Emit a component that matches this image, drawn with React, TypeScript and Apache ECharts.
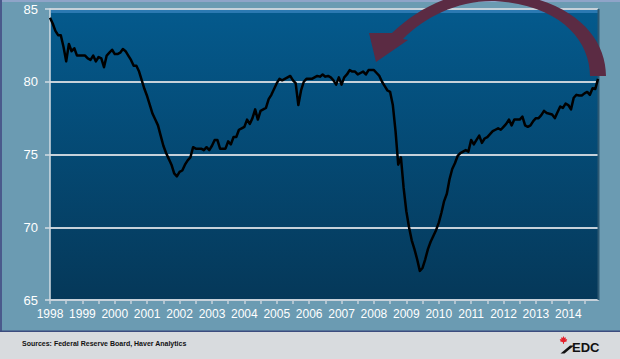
import React, { useEffect, useRef } from "react";
import * as echarts from "echarts";

const years = [1998, 1999, 2000, 2001, 2002, 2003, 2004, 2005, 2006, 2007, 2008, 2009, 2010, 2011, 2012, 2013, 2014];
const monthCodes = ["01", "02", "03", "04", "05", "06", "07", "08", "09", "10", "11", "12"];
const yTicks = { min: 65, max: 85, step: 5 };

const cu1998 = [84.4, 84.0, 83.5, 83.2, 83.2, 82.4, 81.4, 82.6, 82.1, 82.3, 81.8, 81.8];
const cu1999 = [81.8, 81.8, 81.6, 81.5, 81.8, 81.4, 81.7, 81.6, 81.0, 81.8, 82.0, 82.2];
const cu2000 = [81.9, 81.9, 82.0, 82.25, 82.1, 81.8, 81.5, 81.1, 81.1, 80.7, 80.1, 79.5];
const cu2001 = [79.0, 78.4, 77.8, 77.4, 77.0, 76.3, 75.6, 75.1, 74.7, 74.3, 73.7, 73.5];
const cu2002 = [73.8, 73.9, 74.3, 74.6, 74.8, 75.5, 75.4, 75.4, 75.4, 75.3, 75.5, 75.3];
const cu2003 = [75.6, 76.0, 76.0, 75.4, 75.4, 75.4, 75.9, 75.7, 76.2, 76.2, 76.7, 76.8];
const cu2004 = [76.9, 77.4, 77.1, 77.5, 78.1, 77.4, 78.0, 78.1, 78.2, 78.8, 79.1, 79.5];
const cu2005 = [79.9, 80.2, 80.1, 80.2, 80.3, 80.4, 80.1, 79.9, 78.4, 79.4, 80.0, 80.2];
const cu2006 = [80.2, 80.2, 80.3, 80.4, 80.35, 80.5, 80.35, 80.4, 80.3, 80.1, 79.8, 80.3];
const cu2007 = [79.8, 80.3, 80.5, 80.8, 80.7, 80.7, 80.5, 80.6, 80.7, 80.5, 80.8, 80.8];
const cu2008 = [80.8, 80.6, 80.4, 80.0, 79.7, 79.4, 79.3, 78.4, 76.6, 74.3, 74.8, 72.7];
const cu2009 = [71.1, 70.0, 69.1, 68.5, 67.8, 67.0, 67.2, 67.8, 68.5, 69.0, 69.4, 69.8];
const cu2010 = [70.3, 71.0, 71.8, 72.3, 73.3, 74.0, 74.4, 74.9, 75.1, 75.2, 75.3, 75.2];
const cu2011 = [76.0, 75.7, 76.0, 76.3, 75.8, 76.1, 76.2, 76.4, 76.6, 76.7, 76.8, 76.7];
const cu2012 = [76.9, 77.1, 77.4, 77.0, 77.4, 77.4, 77.4, 77.6, 77.0, 76.9, 77.0, 77.3];
const cu2013 = [77.5, 77.5, 77.7, 78.0, 77.85, 77.8, 77.75, 77.5, 77.9, 78.3, 78.2, 78.5];
const cu2014 = [78.4, 78.1, 78.9, 79.1, 79.05, 79.05, 79.2, 79.3, 79.1, 79.55, 79.5, 80.2];

const utilization = [
  ...cu1998, ...cu1999, ...cu2000, ...cu2001, ...cu2002, ...cu2003, ...cu2004, ...cu2005,
  ...cu2006, ...cu2007, ...cu2008, ...cu2009, ...cu2010, ...cu2011, ...cu2012, ...cu2013, ...cu2014,
];
const months = years.flatMap((y) => monthCodes.map((m) => `${y}-${m}`));

const sourceText = "Sources: Federal Reserve Board, Haver Analytics";
const logoText = "EDC";

const ARROW_D =
  "M590,76 L606,76 C606,35 570,-3 495,-8 C455,-11 418,8 392,33 L369,33 L376,62 L408,40 L403,39 C425,17 458,0 495,1 C560,5 590,40 590,76 Z";

let registered = false;
function ensureShapes() {
  if (registered) return;
  echarts.graphic.registerShape("curvedArrow", echarts.graphic.extendPath(ARROW_D, {}) as any);
  registered = true;
}

const FONT = '"Liberation Sans", Arial, Helvetica, sans-serif';

export default function App() {
  const ref = useRef<HTMLDivElement>(null);

  useEffect(() => {
    if (!ref.current) return;
    ensureShapes();
    const chart = echarts.init(ref.current, undefined, { renderer: "svg" });
    const lightLine = "#c6d1da";
    const option: any = {
      animation: false,
      backgroundColor: "#d8dbde",
      grid: {
        left: 50,
        right: 22,
        top: 9,
        bottom: 59,
        show: true,
        borderWidth: 0,
        backgroundColor: new echarts.graphic.LinearGradient(0, 0, 0, 1, [
          { offset: 0, color: "#045a8d" },
          { offset: 1, color: "#053859" },
        ]),
      },
      xAxis: {
        type: "category",
        data: months,
        boundaryGap: false,
        axisLine: { show: true, lineStyle: { color: lightLine, width: 2 } },
        axisTick: { show: true, interval: 5, length: 4, lineStyle: { color: lightLine, width: 1.5 } },
        axisLabel: {
          interval: 11,
          formatter: (v: string) => v.slice(0, 4),
          color: "#ffffff",
          fontSize: 12,
          fontFamily: FONT,
          margin: 8,
        },
        splitLine: { show: false },
      },
      yAxis: {
        type: "value",
        min: yTicks.min,
        max: yTicks.max,
        interval: yTicks.step,
        axisLine: { show: true, lineStyle: { color: "#d3dce3", width: 1.5 } },
        axisTick: { show: true, length: 5, lineStyle: { color: "#d3dce3", width: 1.5 } },
        axisLabel: { color: "#ffffff", fontSize: 13, fontFamily: FONT, margin: 12 },
        splitLine: { show: true, lineStyle: { color: lightLine, width: 2 } },
      },
      series: [
        {
          type: "line",
          data: utilization,
          symbol: "none",
          smooth: false,
          z: 5,
          lineStyle: { color: "#000000", width: 2.5, join: "round" },
        },
      ],
      graphic: [
        // outer panel
        { type: "rect", z: -10, silent: true, shape: { x: 0, y: 0, width: 620, height: 332 }, style: { fill: "#6b9bb2" } },
        { type: "rect", z: -9, silent: true, shape: { x: 0, y: 0, width: 620, height: 2 }, style: { fill: "#8fa4c8" } },
        { type: "rect", z: -9, silent: true, shape: { x: 0, y: 0, width: 2, height: 332 }, style: { fill: "#4a5a8c" } },
        { type: "rect", z: -9, silent: true, shape: { x: 0, y: 330.5, width: 620, height: 1.5 }, style: { fill: "#3c4c7e" } },
        // bevel band at top of plot
        { type: "rect", z: 1, silent: true, shape: { x: 51, y: 10, width: 547, height: 3 }, style: { fill: "#2b79b2" } },
        // dark right edge of plot
        { type: "rect", z: 1, silent: true, shape: { x: 597.5, y: 9, width: 2, height: 291 }, style: { fill: "#2d5872" } },
        // arrow
        { type: "curvedArrow", z: 100, silent: true, x: 0, y: 0, style: { fill: "#5b2b43" } },
        // source text
        {
          type: "text",
          z: 100,
          x: 22,
          y: 343.5,
          style: {
            text: sourceText,
            fill: "#111111",
            font: `bold 7px ${FONT}`,
            fontSize: 7,
            fontWeight: "bold",
            fontFamily: FONT,
            textVerticalAlign: "middle",
            verticalAlign: "middle",
          },
        },
        // EDC logo
        {
          type: "polygon",
          z: 100,
          silent: true,
          shape: {
            points: [
              [563.5, 336], [564.5, 338], [566, 337.3], [565.5, 339.5], [567.3, 339], [566.5, 340.8], [567, 341.2],
              [564.8, 342], [564.2, 342], [563.8, 344], [563.2, 344], [562.8, 342], [562.2, 342],
              [560, 341.2], [560.5, 340.8], [559.7, 339], [561.5, 339.5], [561, 337.3], [562.5, 338],
            ],
          },
          style: { fill: "#e4202b" },
        },
        {
          type: "polygon",
          z: 100,
          silent: true,
          shape: { points: [[560.5, 353.5], [564.5, 353.5], [574, 345.5], [570, 345.5]] },
          style: { fill: "#111111" },
        },
        {
          type: "text",
          z: 100,
          x: 572,
          y: 347,
          style: {
            text: logoText,
            fill: "#111111",
            font: `bold 13px ${FONT}`,
            fontSize: 13,
            fontWeight: "bold",
            fontFamily: FONT,
            textVerticalAlign: "middle",
            verticalAlign: "middle",
          },
        },
      ],
    };
    chart.setOption(option);
    return () => chart.dispose();
  }, []);

  return (
    <div
      ref={ref}
      style={{ position: "absolute", left: 0, top: 0, width: 620, height: 359 }}
    />
  );
}
